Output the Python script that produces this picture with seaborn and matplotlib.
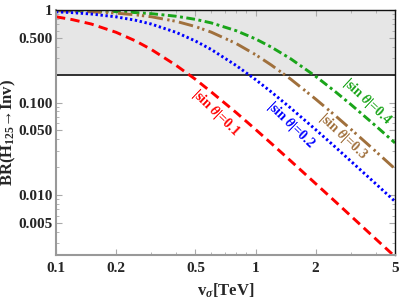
import matplotlib
matplotlib.use("Agg")
import matplotlib.pyplot as plt
import seaborn as sns
import pandas as pd

# v_sigma in TeV
v_sigma = [0.1, 0.12, 0.15, 0.2, 0.25, 0.3, 0.4, 0.5, 0.6, 0.8,
           1.0, 1.2, 1.5, 2.0, 2.5, 3.0, 4.0, 5.0]

# BR(H125 -> Inv)
br_sin01 = [0.844, 0.789, 0.706, 0.574, 0.464, 0.375, 0.252, 0.178, 0.130, 0.0778,
            0.0512, 0.0361, 0.0234, 0.0133, 0.00857, 0.00596, 0.00336, 0.00216]
br_sin02 = [0.956, 0.937, 0.905, 0.843, 0.775, 0.705, 0.573, 0.462, 0.374, 0.251,
            0.177, 0.130, 0.0872, 0.0510, 0.0333, 0.0233, 0.01326, 0.00853]
br_sin03 = [0.980, 0.971, 0.956, 0.925, 0.887, 0.845, 0.754, 0.662, 0.576, 0.434,
            0.329, 0.254, 0.179, 0.109, 0.0727, 0.0516, 0.0297, 0.0192]
br_sin04 = [0.990, 0.985, 0.977, 0.960, 0.938, 0.913, 0.856, 0.792, 0.725, 0.597,
            0.487, 0.397, 0.297, 0.192, 0.132, 0.0955, 0.0560, 0.0366]

br_limit = 0.2

x_ticks = [0.1, 0.2, 0.5, 1, 2, 5]
x_labels = ["0.1", "0.2", "0.5", "1", "2", "5"]
y_ticks = [0.005, 0.01, 0.05, 0.1, 0.5, 1]
y_labels = ["0.005", "0.010", "0.050", "0.100", "0.500", "1"]

sns.set_style("ticks")
plt.rcParams['font.family'] = ['Liberation Serif', 'DejaVu Serif']
plt.rcParams['font.weight'] = 'bold'
plt.rcParams['mathtext.fontset'] = 'custom'
plt.rcParams['mathtext.rm'] = 'Liberation Serif:bold'
plt.rcParams['mathtext.it'] = 'Liberation Serif:italic:bold'
plt.rcParams['mathtext.bf'] = 'Liberation Serif:bold'

df = pd.DataFrame({"v": v_sigma, "s1": br_sin01, "s2": br_sin02,
                   "s3": br_sin03, "s4": br_sin04})

fig, ax = plt.subplots(figsize=(3.99, 3.0), dpi=100)
fig.subplots_adjust(left=0.1404, right=0.990, bottom=0.15, top=0.9667)

# excluded region
ax.axhspan(br_limit, 1.0, color="#e6e6e6", zorder=0, lw=0)
ax.axhline(br_limit, color="#222222", lw=1.3, zorder=1)

sns.lineplot(data=df, x="v", y="s4", ax=ax, color="#1aa51a", lw=2.1,
             linestyle=(0, (3, 1.2, 1, 1.2)))
sns.lineplot(data=df, x="v", y="s3", ax=ax, color="#a0703c", lw=2.1,
             linestyle=(0, (5, 1.5, 0.8, 1.0, 0.8, 1.5)))
sns.lineplot(data=df, x="v", y="s2", ax=ax, color="#0000ff", lw=2.1,
             linestyle=(0, (0.8, 0.9)))
sns.lineplot(data=df, x="v", y="s1", ax=ax, color="#ff0000", lw=2.1,
             linestyle=(0, (3.2, 1.8)))

ax.set_xscale("log")
ax.set_yscale("log")
ax.set_xlim(0.1, 5)
ax.set_ylim(0.00225, 1)

ax.set_xticks(x_ticks)
ax.set_xticklabels(x_labels)
ax.set_yticks(y_ticks)
ax.set_yticklabels(y_labels)
ax.tick_params(which="both", direction="in", top=True, right=True,
               color="#aaaaaa", labelsize=11, pad=2.5)
ax.tick_params(axis="x", pad=5)
ax.tick_params(which="major", length=4)
ax.tick_params(which="minor", length=2)

for side in ["left", "bottom"]:
    ax.spines[side].set_color("#999999")
    ax.spines[side].set_linewidth(1.5)
for side in ["top", "right"]:
    ax.spines[side].set_color("#111111")
    ax.spines[side].set_linewidth(1.0)

ax.set_xlabel(r"v$_{\sigma}$[TeV]", fontsize=12, fontweight="bold")
ax.set_ylabel(r"BR(H$_{125}$→Inv)", fontsize=12, fontweight="bold")
ax.xaxis.set_label_coords(0.5, -0.11)
ax.yaxis.set_label_coords(-0.112, 0.5)

lbl = dict(fontsize=10, fontweight="bold", ha="center", va="center",
           rotation_mode="anchor")
ax.text(0.627, 0.077, r"|sin $\theta$|=0.1", color="#ff0000", rotation=-44, **lbl)
ax.text(1.5, 0.057, r"|sin $\theta$|=0.2", color="#0000ff", rotation=-44, **lbl)
ax.text(2.75, 0.043, r"|sin $\theta$|=0.3", color="#a0703c", rotation=-43, **lbl)
ax.text(3.62, 0.103, r"|sin $\theta$|=0.4", color="#1aa51a", rotation=-43, **lbl)

fig.savefig("out.png", dpi=100)
